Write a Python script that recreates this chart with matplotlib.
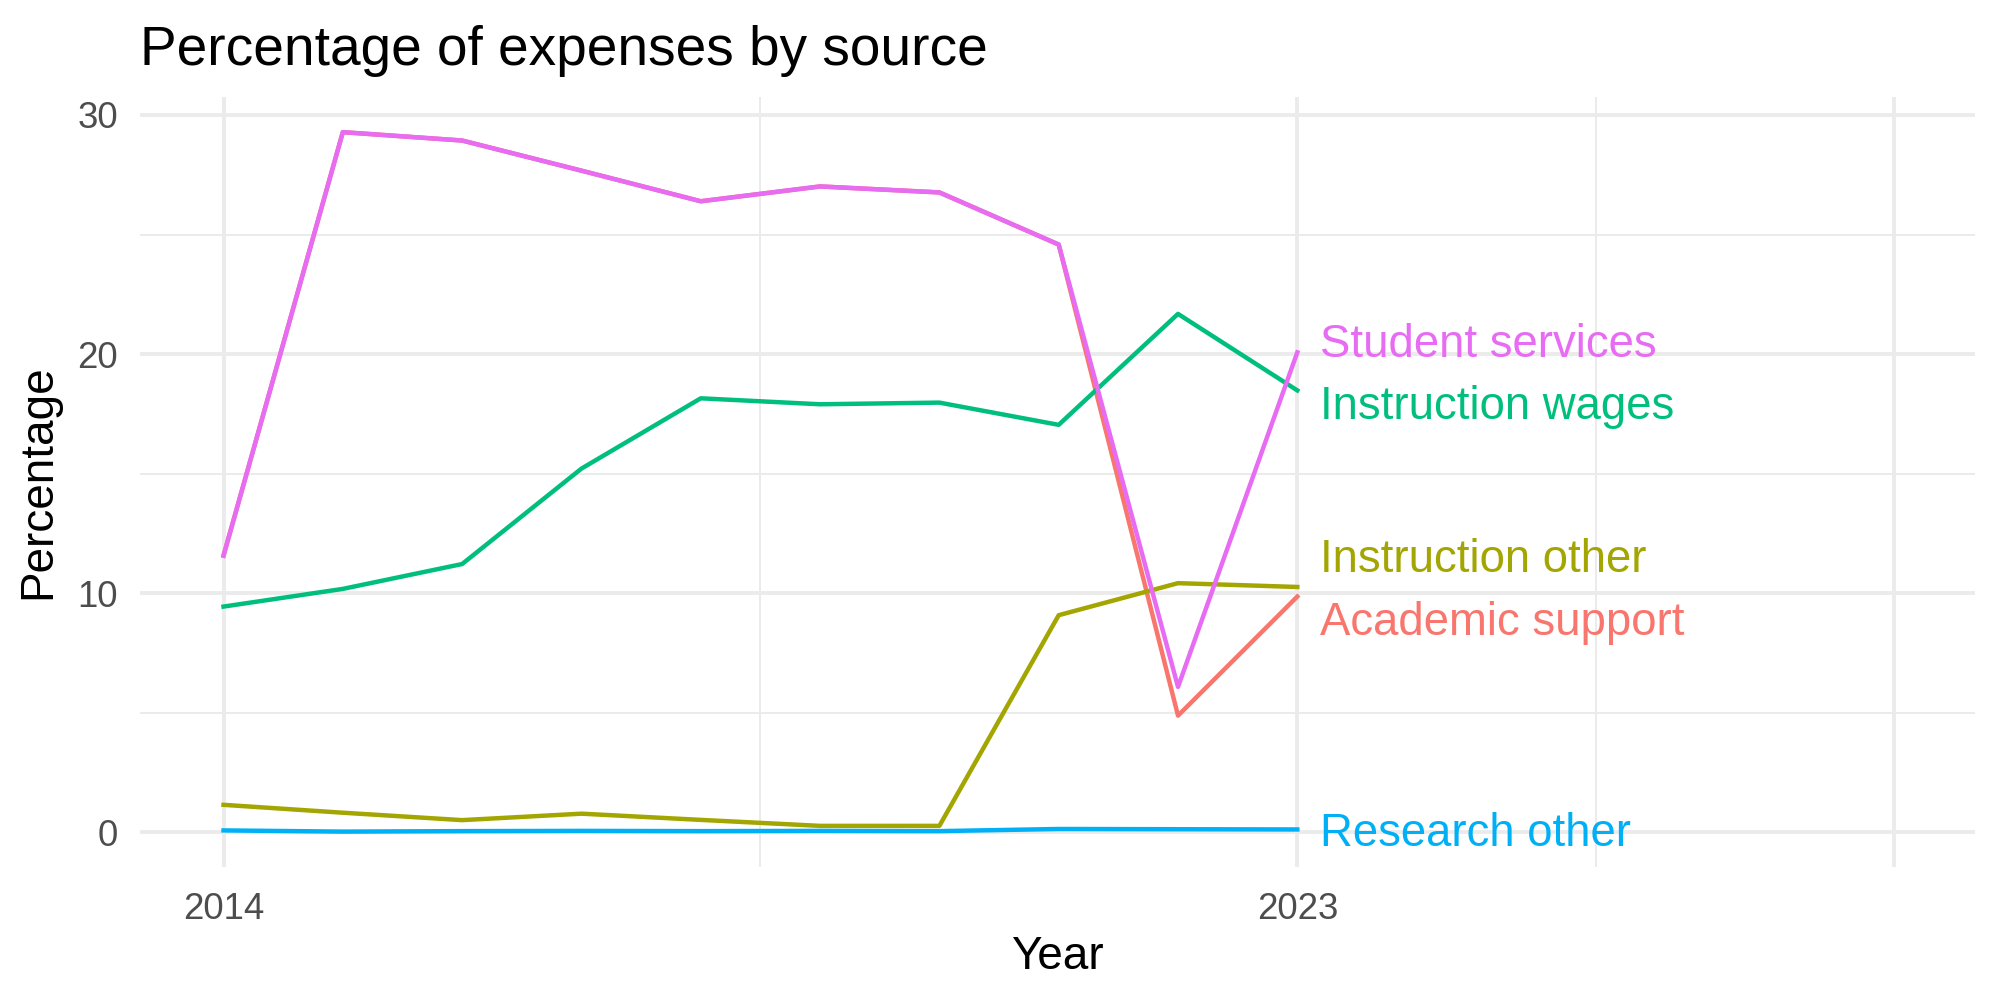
import matplotlib.pyplot as plt
from matplotlib.ticker import FixedLocator

plt.rcParams['font.family'] = ['Liberation Sans', 'DejaVu Sans']

years = [2014, 2015, 2016, 2017, 2018, 2019, 2020, 2021, 2022, 2023]

academic_support = [11.57, 29.28, 28.93, 27.67, 26.39, 27.01, 26.76, 24.58, 4.88, 9.86]
instruction_other = [1.15, 0.82, 0.51, 0.78, 0.52, 0.27, 0.27, 9.08, 10.42, 10.26]
instruction_wages = [9.44, 10.18, 11.22, 15.21, 18.15, 17.90, 17.97, 17.04, 21.68, 18.48]
research_other = [0.08, 0.03, 0.05, 0.06, 0.05, 0.06, 0.05, 0.14, 0.13, 0.12]
student_services = [11.57, 29.28, 28.93, 27.67, 26.39, 27.01, 26.76, 24.58, 6.08, 20.07]

sources = ['Academic support', 'Instruction other', 'Instruction wages',
           'Research other', 'Student services']
values = [academic_support, instruction_other, instruction_wages,
          research_other, student_services]
colors = ['#F8766D', '#A3A500', '#00BF7D', '#00B0F6', '#E76BF3']

# repelled label baselines (data units)
label_base = [8.27, 10.9, 17.27, -0.56, 19.86]

fig = plt.figure(figsize=(10, 5), dpi=200)
ax = fig.add_axes([0.07, 0.133, 0.9175, 0.77])

for name, vals, c, yb in zip(sources, values, colors, label_base):
    ax.plot(years, vals, color=c, linewidth=1.6, solid_joinstyle='round', zorder=3)
    ax.text(2023.19, yb, name, color=c, fontsize=16.4, va='baseline', ha='left', zorder=4)

ax.set_xlim(2013.3, 2028.68)
ax.set_ylim(-1.45, 30.75)

ax.xaxis.set_major_locator(FixedLocator([2014, 2023, 2028]))
ax.set_xticklabels(['2014', '2023', ''])
ax.xaxis.set_minor_locator(FixedLocator([2018.5, 2025.5]))
ax.yaxis.set_major_locator(FixedLocator([0, 10, 20, 30]))
ax.yaxis.set_minor_locator(FixedLocator([5, 15, 25]))

ax.grid(which='major', color='#EBEBEB', linewidth=1.4)
ax.grid(which='minor', color='#EBEBEB', linewidth=0.7)
ax.set_axisbelow(True)
for s in ax.spines.values():
    s.set_visible(False)
ax.tick_params(which='both', length=0, labelsize=13.2, labelcolor='#4D4D4D')
ax.tick_params(axis='x', pad=9)
ax.tick_params(axis='y', pad=8)

ax.set_xlabel('Year', fontsize=16.5, labelpad=3)
ax.set_ylabel('Percentage', fontsize=16.5, labelpad=6)
fig.text(0.07, 0.935, 'Percentage of expenses by source', fontsize=19.8,
         ha='left', va='baseline')

fig.savefig('out.png')
